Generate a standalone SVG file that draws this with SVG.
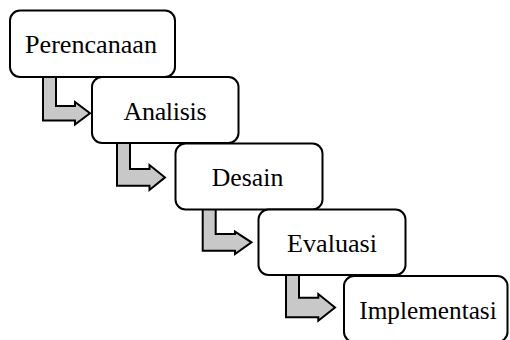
<svg xmlns="http://www.w3.org/2000/svg" width="510" height="340" viewBox="0 0 510 340">
  <style>
    .box { fill: #ffffff; stroke: #000000; stroke-width: 2; }
    .arrow { fill: #c8c8c8; stroke: #000000; stroke-width: 2; stroke-linejoin: miter; }
    .label { font-family: "Liberation Serif", "Times New Roman", serif; font-size: 26px; fill: #000000; }
  </style>
  <rect width="510" height="340" fill="#ffffff"/>
  <g id="connectors">
    <polygon class="arrow" points="43,76 56,76 56,106 75,106 75,102 90,113.2 75,124.5 75,120.5 43,120.5"/>
    <polygon class="arrow" points="117,142 130,142 130,169 149.5,169 149.5,165 165,177.4 149.5,190 149.5,185.7 117,185.7"/>
    <polygon class="arrow" points="202.7,209 215.7,209 215.7,234 235,234 235,231.7 251.5,242.4 235,254 235,250.7 202.7,250.7"/>
    <polygon class="arrow" points="286,274 299,274 299,297.7 318.3,297.7 318.3,294 335,307.5 318.3,320.7 318.3,317.3 286,317.3"/>
  </g>
  <g id="perencanaan">
    <rect class="box" x="10" y="10.5" width="165" height="66.5" rx="10" ry="10"/>
    <text class="label" x="25" y="53.3" textLength="132" lengthAdjust="spacingAndGlyphs">Perencanaan</text>
  </g>
  <g id="analisis">
    <rect class="box" x="92" y="77" width="146.5" height="66" rx="10" ry="10"/>
    <text class="label" x="123.5" y="120" textLength="83" lengthAdjust="spacing">Analisis</text>
  </g>
  <g id="desain">
    <rect class="box" x="175.5" y="143.5" width="147" height="66" rx="10" ry="10"/>
    <text class="label" x="211.7" y="185.7" textLength="71.6" lengthAdjust="spacingAndGlyphs">Desain</text>
  </g>
  <g id="evaluasi">
    <rect class="box" x="258.5" y="209.5" width="147" height="65.5" rx="10" ry="10"/>
    <text class="label" x="287" y="252.3" textLength="90" lengthAdjust="spacingAndGlyphs">Evaluasi</text>
  </g>
  <g id="implementasi">
    <rect class="box" x="344" y="276" width="163.5" height="66" rx="10" ry="10"/>
    <text class="label" x="359.3" y="319.3" textLength="137.4" lengthAdjust="spacingAndGlyphs">Implementasi</text>
  </g>
</svg>
